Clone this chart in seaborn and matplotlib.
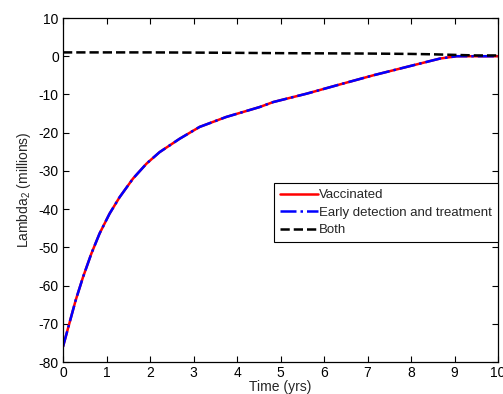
import matplotlib
matplotlib.use("Agg")
import matplotlib.pyplot as plt
import seaborn as sns
import numpy as np

# Data
time_vacc = [0, 0.29, 0.46, 0.65, 0.84, 1.07, 1.30, 1.61, 1.92, 2.22, 2.68, 3.14,
             3.75, 4.52, 4.83, 5.60, 6.36, 7.13, 7.90, 8.67, 9.05, 9.5, 10]
lambda_vacc = [-76, -63.9, -57.8, -51.7, -46.4, -41.2, -36.9, -32.0, -28.1, -25.1, -21.6, -18.5,
               -15.9, -13.3, -12.0, -9.8, -7.4, -5.0, -2.8, -0.6, 0, 0, 0]
lambda_early = list(lambda_vacc)
time_both = [0, 1, 2, 3, 3.8, 5, 6, 7, 8, 8.5, 9, 9.5, 10]
lambda_both = [1.0, 1.0, 1.0, 0.95, 0.9, 0.8, 0.75, 0.7, 0.6, 0.5, 0.35, 0.2, 0.2]

labels = ["Vaccinated", "Early detection and treatment", "Both"]
x_ticks = list(range(0, 11))
y_ticks = list(range(-80, 11, 10))

sns.set_style("ticks")
plt.rcParams['font.family'] = ['Liberation Sans', 'DejaVu Sans']
plt.rcParams['mathtext.fontset'] = 'custom'
plt.rcParams['mathtext.rm'] = 'Liberation Sans'
plt.rcParams['axes.unicode_minus'] = False

fig = plt.figure(figsize=(5.03, 3.94), dpi=100)
ax = fig.add_axes([63/503, 1 - 362/394, 435/503, 344/394])

sns.lineplot(x=time_vacc, y=lambda_vacc, ax=ax, color="red", linewidth=1.8,
             linestyle="-", label=labels[0], estimator=None, sort=False)
sns.lineplot(x=time_vacc, y=lambda_early, ax=ax, color="blue", linewidth=1.8,
             linestyle="-.", label=labels[1], estimator=None, sort=False)
sns.lineplot(x=time_both, y=lambda_both, ax=ax, color="black", linewidth=1.8,
             linestyle="--", label=labels[2], estimator=None, sort=False)

ax.set_xlim(0, 10)
ax.set_ylim(-80, 10)
ax.set_xticks(x_ticks)
ax.set_yticks(y_ticks)
ax.tick_params(direction="in", top=True, right=True, length=4, width=0.8,
               labelsize=10, pad=3, colors="black")
for s in ax.spines.values():
    s.set_visible(True)
    s.set_color("black")
    s.set_linewidth(0.9)

ax.set_xlabel("Time (yrs)", fontsize=10, labelpad=0)
ax.set_ylabel("Lambda$_2$ (millions)", fontsize=10, labelpad=4)

leg = ax.legend(loc="upper right", bbox_to_anchor=(1.0, 0.52), borderaxespad=0,
                fontsize=9.5, frameon=True, fancybox=False, handlelength=2.9,
                handletextpad=0.1, labelspacing=0.4, borderpad=0.45)
leg.get_frame().set_edgecolor("black")
leg.get_frame().set_linewidth(0.8)
leg.get_frame().set_alpha(1)

fig.savefig("out.png", dpi=100)
